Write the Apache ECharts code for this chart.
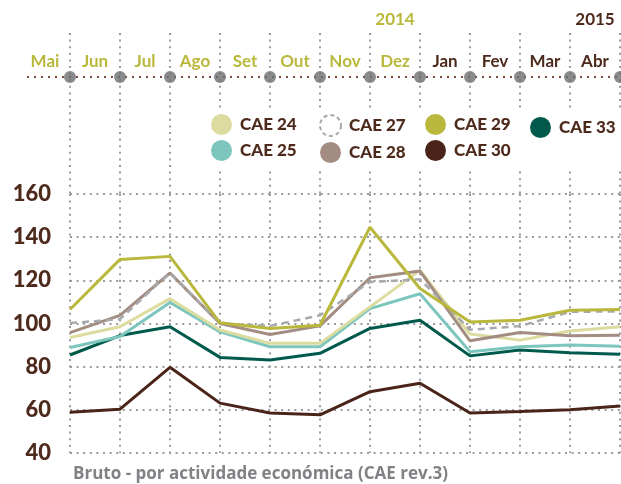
<!DOCTYPE html>
<html>
<head>
<meta charset="utf-8">
<script src="https://cdn.jsdelivr.net/npm/echarts@6/dist/echarts.min.js"></script>
<style>
  html, body { margin: 0; padding: 0; background: #fff; }
  #main { width: 621px; height: 484px; }
</style>
</head>
<body>
<div id="main"></div>
<script>
// meses (Mai 2014 .. Abr 2015)
const months = ['Mai', 'Jun', 'Jul', 'Ago', 'Set', 'Out', 'Nov', 'Dez', 'Jan', 'Fev', 'Mar', 'Abr'];
const years = ['', '', '', '', '', '', '', '2014', '', '', '', '2015'];

const cae24 = [93.5, 98.5, 111.5, 97, 90.8, 90.8, 107.7, 124.6, 95.1, 92.3, 96.5, 98.5];
const cae25 = [88.9, 94, 109.7, 96.1, 89.2, 89.2, 106.9, 113.8, 86.9, 89.2, 90, 89.5];
const cae27 = [100.2, 102, 123.6, 100, 98.9, 103.8, 119.2, 120.5, 97.1, 98.8, 105.4, 105.6];
const cae28 = [95.8, 103.8, 123.4, 100, 94.9, 98.9, 121.2, 124.3, 92, 95.8, 94.3, 94.6];
const cae29 = [106.5, 129.7, 131.1, 100.3, 97.7, 99.2, 144.6, 116.2, 100.7, 101.5, 106.1, 106.5];
const cae30 = [58.9, 60.3, 79.7, 63.1, 58.5, 57.7, 68.4, 72.3, 58.5, 59.2, 60, 61.8];
const cae33 = [85.4, 94.4, 98.5, 84.3, 83.1, 86.2, 97.7, 101.5, 85, 87.7, 86.4, 85.8];

const OLIVE = '#b9b83c';
const BROWN = '#4e2a1d';
const FONT = 'Lato';

const dotted = { color: '#9b9b9b', width: 2, type: [2, 4.6] };

const myChart = echarts.init(document.getElementById('main'));

function lineSeries(name, data, color, extra) {
  return Object.assign({
    name: name,
    type: 'line',
    xAxisIndex: 0,
    yAxisIndex: 0,
    data: data,
    showSymbol: false,
    color: color,
    lineStyle: { color: color, width: 3 },
    emphasis: { disabled: true }
  }, extra || {});
}

const legendBase = {
  orient: 'vertical',
  padding: 0,
  itemWidth: 21,
  itemHeight: 21,
  itemGap: 5,
  icon: 'circle',
  selectedMode: false,
  textStyle: { color: BROWN, fontSize: 17, fontWeight: 900, fontFamily: FONT, padding: [0, 0, 0, 3] }
};

const option = {
  animation: false,
  backgroundColor: '#fff',
  title: {
    text: 'Bruto - por actividade económica (CAE rev.3)',
    left: 73,
    top: 466,
    padding: 0,
    textStyle: { color: '#808285', fontSize: 17, fontWeight: 'bold', fontFamily: 'Open Sans' }
  },
  legend: [
    Object.assign({}, legendBase, { left: 211, top: 114, data: ['CAE 24', 'CAE 25'] }),
    Object.assign({}, legendBase, {
      left: 319, top: 114,
      data: [
        { name: 'CAE 27', itemStyle: { color: '#fff', borderColor: '#a7a9ac', borderWidth: 2, borderType: [4, 3] } },
        'CAE 28'
      ]
    }),
    Object.assign({}, legendBase, { left: 425, top: 114, data: ['CAE 29', 'CAE 30'] }),
    Object.assign({}, legendBase, { left: 530, top: 117, data: ['CAE 33'] })
  ],
  grid: [
    { left: 70, right: 1, top: 194, bottom: 31 },
    { left: 70, right: 1, top: 33, height: 161 },
    { left: 20, right: 1, top: 33, height: 44 }
  ],
  xAxis: [
    {
      gridIndex: 0, type: 'category', data: months, boundaryGap: false,
      axisLine: { show: false }, axisTick: { show: false }, axisLabel: { show: false },
      splitLine: { show: true, lineStyle: dotted }
    },
    {
      gridIndex: 1, type: 'category', data: months, boundaryGap: false,
      axisLine: { show: false }, axisTick: { show: false }, axisLabel: { show: false },
      splitLine: { show: true, lineStyle: dotted }
    },
    {
      gridIndex: 2, type: 'category', data: months, boundaryGap: true, position: 'bottom',
      axisLine: { show: false }, axisTick: { show: false }, splitLine: { show: false },
      axisLabel: {
        inside: true, margin: 7, interval: 0,
        fontSize: 17, fontWeight: 'bold', fontFamily: FONT,
        color: function (v, i) { return i < 8 ? OLIVE : BROWN; }
      }
    },
    {
      gridIndex: 2, type: 'category', data: years, boundaryGap: true, position: 'top',
      axisLine: { show: false }, axisTick: { show: false }, splitLine: { show: false },
      axisLabel: {
        margin: 5, interval: 0,
        fontSize: 17, fontWeight: 'bold', fontFamily: FONT,
        color: function (v, i) { return i < 8 ? OLIVE : BROWN; }
      }
    }
  ],
  yAxis: [
    {
      gridIndex: 0, type: 'value', min: 40, max: 160, interval: 20,
      axisLine: { show: false }, axisTick: { show: false },
      axisLabel: { margin: 19, color: BROWN, fontSize: 22, fontWeight: 900, fontFamily: FONT },
      splitLine: { show: true, lineStyle: dotted }
    },
    { gridIndex: 1, type: 'value', min: -117, max: 44, show: false },
    { gridIndex: 2, type: 'value', show: false }
  ],
  graphic: [
    {
      type: 'line', z: 1,
      shape: { x1: 27, y1: 77, x2: 621, y2: 77 },
      style: { stroke: '#7b4b3a', lineWidth: 2, lineDash: [2, 5] }
    },
    {
      type: 'rect', z: 3,
      shape: { x: 205, y: 110, width: 416, height: 57 },
      style: { fill: '#fff' }
    }
  ],
  series: [
    {
      type: 'scatter', xAxisIndex: 1, yAxisIndex: 1, z: 5,
      symbolSize: 12, itemStyle: { color: '#6d6e70' },
      data: months.map(m => [m, 0]),
      silent: true
    },
    lineSeries('CAE 30', cae30, '#4a2418'),
    lineSeries('CAE 33', cae33, '#005a4c'),
    lineSeries('CAE 25', cae25, '#7dc6be'),
    lineSeries('CAE 24', cae24, '#dddca0'),
    lineSeries('CAE 28', cae28, '#a38d83'),
    lineSeries('CAE 27', cae27, '#a7a9ac', { lineStyle: { color: '#a7a9ac', width: 2.5, type: [7, 5] } }),
    lineSeries('CAE 29', cae29, OLIVE)
  ]
};

myChart.setOption(option);
</script>
</body>
</html>
